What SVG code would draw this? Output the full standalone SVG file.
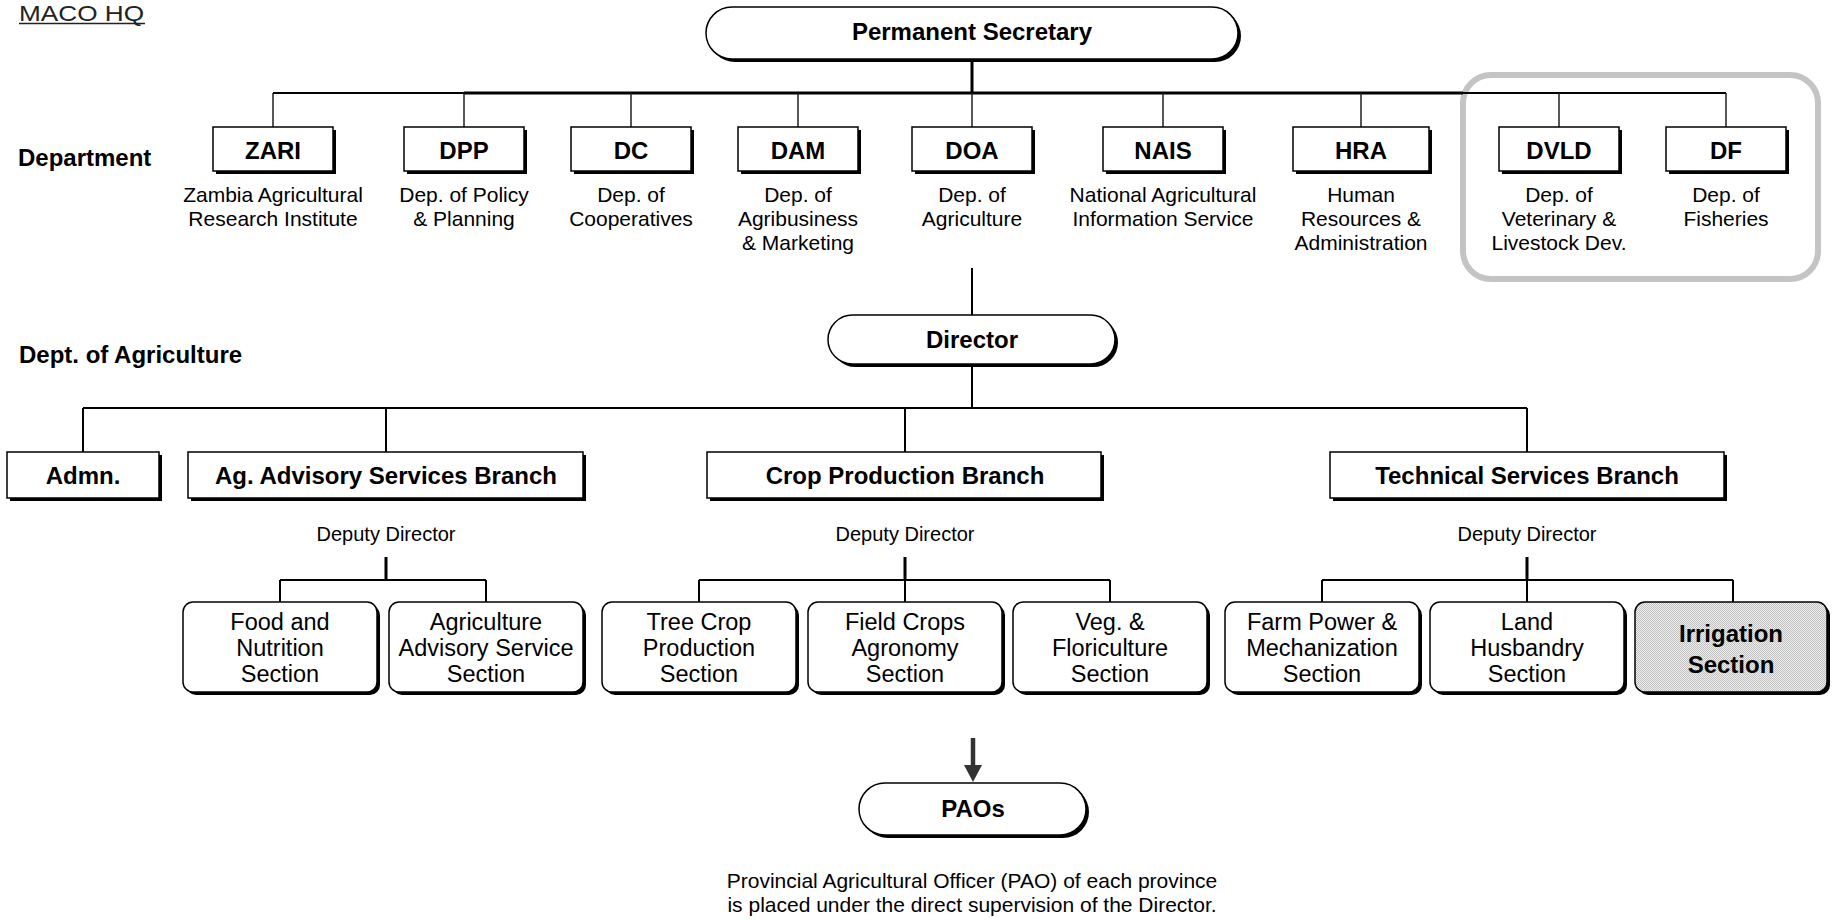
<svg xmlns="http://www.w3.org/2000/svg" width="1832" height="920" viewBox="0 0 1832 920">
<defs>
<style>
.bx{fill:#fff;stroke:#000;stroke-width:1.5}
.sh{fill:#000}
.irr{fill:url(#dots);stroke:#000;stroke-width:1.5}
.b{font-family:"Liberation Sans",Arial,sans-serif;font-weight:bold;font-size:24px;text-anchor:middle;fill:#000}
.bl{font-family:"Liberation Sans",Arial,sans-serif;font-weight:bold;font-size:24px;fill:#000}
.d{font-family:"Liberation Sans",Arial,sans-serif;font-size:21px;text-anchor:middle;fill:#000}
.s{font-family:"Liberation Sans",Arial,sans-serif;font-size:23.5px;text-anchor:middle;fill:#000}
.dd{font-family:"Liberation Sans",Arial,sans-serif;font-size:20px;text-anchor:middle;fill:#000}
.ln{stroke:#000;stroke-width:2;fill:none}
.lt{stroke:#000;stroke-width:3;fill:none}
.lf{stroke:#222;stroke-width:1.5;fill:none}
</style>
<pattern id="dots" width="2" height="2" patternUnits="userSpaceOnUse">
<rect width="2" height="2" fill="#efefef"/>
<rect width="1" height="1" fill="#c0c0c0"/>
<rect x="1" y="1" width="1" height="1" fill="#c0c0c0"/>
</pattern>
<marker id="ah" markerUnits="userSpaceOnUse" markerWidth="18" markerHeight="18" refX="0" refY="9" orient="auto">
<path d="M0,0 L17,9 L0,18 Z" fill="#333"/>
</marker>
</defs>

<g id="title">
<text x="19" y="21" font-family="Liberation Sans, Arial, sans-serif" font-size="22" fill="#222" textLength="125" lengthAdjust="spacingAndGlyphs">MACO HQ</text>
<line x1="19" y1="23.5" x2="145" y2="23.5" stroke="#222" stroke-width="1.6"/>
</g>
<g id="labels">
<text class="bl" x="18" y="166">Department</text>
<text class="bl" x="19" y="363">Dept. of Agriculture</text>
</g>

<g id="group-box">
<rect x="1463" y="75" width="355" height="204" rx="28" fill="none" stroke="#c4c4c4" stroke-width="6"/>
</g>

<g id="connectors">
<path class="lt" d="M972,59 V93"/>
<path class="ln" d="M273,93 H464"/>
<path class="lt" d="M464,93 H1463"/>
<path class="ln" d="M1463,93 H1726"/>
<path class="lf" d="M273,93 V127 M464,93 V127 M631,93 V127 M798,93 V127 M972,93 V127 M1163,93 V127 M1361,93 V127 M1559,93 V127 M1726,93 V127"/>
<path class="ln" d="M972,268 V315"/>
<path class="ln" d="M972,364 V408"/>
<path class="ln" d="M83,408 H1527"/>
<path class="ln" d="M83,408 V452 M386,408 V452 M905,408 V452 M1527,408 V452"/>
<path class="lt" d="M386,557 V580 M905,557 V580 M1527,557 V580"/>
<path class="ln" d="M280,580 H486 M280,580 V602 M486,580 V602"/>
<path class="ln" d="M699,580 H1110 M699,580 V602 M905,580 V602 M1110,580 V602"/>
<path class="ln" d="M1322,580 H1733 M1322,580 V602 M1527,580 V602 M1733,580 V602"/>
<line x1="973" y1="738" x2="973" y2="765" stroke="#333" stroke-width="4.5" marker-end="url(#ah)"/>
</g>

<g id="ps">
<rect class="sh" x="709" y="10" width="532" height="52" rx="26"/>
<rect class="bx" x="706" y="7" width="532" height="52" rx="26"/>
<text class="b" x="972" y="40">Permanent Secretary</text>
</g>

<g id="zari">
<rect class="sh" x="216" y="130" width="120" height="44"/>
<rect class="bx" x="213" y="127" width="120" height="44"/>
<text class="b" x="273" y="159">ZARI</text>
<text class="d" y="202"><tspan x="273">Zambia Agricultural</tspan><tspan x="273" dy="24">Research Institute</tspan></text>
</g>
<g id="dpp">
<rect class="sh" x="407" y="130" width="120" height="44"/>
<rect class="bx" x="404" y="127" width="120" height="44"/>
<text class="b" x="464" y="159">DPP</text>
<text class="d" y="202"><tspan x="464">Dep. of Policy</tspan><tspan x="464" dy="24">&amp; Planning</tspan></text>
</g>
<g id="dc">
<rect class="sh" x="574" y="130" width="120" height="44"/>
<rect class="bx" x="571" y="127" width="120" height="44"/>
<text class="b" x="631" y="159">DC</text>
<text class="d" y="202"><tspan x="631">Dep. of</tspan><tspan x="631" dy="24">Cooperatives</tspan></text>
</g>
<g id="dam">
<rect class="sh" x="741" y="130" width="120" height="44"/>
<rect class="bx" x="738" y="127" width="120" height="44"/>
<text class="b" x="798" y="159">DAM</text>
<text class="d" y="202"><tspan x="798">Dep. of</tspan><tspan x="798" dy="24">Agribusiness</tspan><tspan x="798" dy="24">&amp; Marketing</tspan></text>
</g>
<g id="doa">
<rect class="sh" x="915" y="130" width="120" height="44"/>
<rect class="bx" x="912" y="127" width="120" height="44"/>
<text class="b" x="972" y="159">DOA</text>
<text class="d" y="202"><tspan x="972">Dep. of</tspan><tspan x="972" dy="24">Agriculture</tspan></text>
</g>
<g id="nais">
<rect class="sh" x="1106" y="130" width="120" height="44"/>
<rect class="bx" x="1103" y="127" width="120" height="44"/>
<text class="b" x="1163" y="159">NAIS</text>
<text class="d" y="202"><tspan x="1163">National Agricultural</tspan><tspan x="1163" dy="24">Information Service</tspan></text>
</g>
<g id="hra">
<rect class="sh" x="1296" y="130" width="136" height="44"/>
<rect class="bx" x="1293" y="127" width="136" height="44"/>
<text class="b" x="1361" y="159">HRA</text>
<text class="d" y="202"><tspan x="1361">Human</tspan><tspan x="1361" dy="24">Resources &amp;</tspan><tspan x="1361" dy="24">Administration</tspan></text>
</g>
<g id="dvld">
<rect class="sh" x="1502" y="130" width="120" height="44"/>
<rect class="bx" x="1499" y="127" width="120" height="44"/>
<text class="b" x="1559" y="159">DVLD</text>
<text class="d" y="202"><tspan x="1559">Dep. of</tspan><tspan x="1559" dy="24">Veterinary &amp;</tspan><tspan x="1559" dy="24">Livestock Dev.</tspan></text>
</g>
<g id="df">
<rect class="sh" x="1669" y="130" width="120" height="44"/>
<rect class="bx" x="1666" y="127" width="120" height="44"/>
<text class="b" x="1726" y="159">DF</text>
<text class="d" y="202"><tspan x="1726">Dep. of</tspan><tspan x="1726" dy="24">Fisheries</tspan></text>
</g>

<g id="director">
<rect class="sh" x="831" y="318" width="287" height="49" rx="24.5"/>
<rect class="bx" x="828" y="315" width="287" height="49" rx="24.5"/>
<text class="b" x="972" y="348">Director</text>
</g>

<g id="admn">
<rect class="sh" x="10" y="455" width="152" height="46"/>
<rect class="bx" x="7" y="452" width="152" height="46"/>
<text class="b" x="83" y="484">Admn.</text>
</g>
<g id="agadv">
<rect class="sh" x="191" y="455" width="395" height="46"/>
<rect class="bx" x="188" y="452" width="395" height="46"/>
<text class="b" x="386" y="484">Ag. Advisory Services Branch</text>
<text class="dd" x="386" y="541">Deputy Director</text>
</g>
<g id="crop">
<rect class="sh" x="710" y="455" width="394" height="46"/>
<rect class="bx" x="707" y="452" width="394" height="46"/>
<text class="b" x="905" y="484">Crop Production Branch</text>
<text class="dd" x="905" y="541">Deputy Director</text>
</g>
<g id="tech">
<rect class="sh" x="1333" y="455" width="394" height="46"/>
<rect class="bx" x="1330" y="452" width="394" height="46"/>
<text class="b" x="1527" y="484">Technical Services Branch</text>
<text class="dd" x="1527" y="541">Deputy Director</text>
</g>

<g id="food">
<rect class="sh" x="186" y="605" width="194" height="90" rx="10"/>
<rect class="bx" x="183" y="602" width="194" height="90" rx="10"/>
<text class="s" y="630"><tspan x="280">Food and</tspan><tspan x="280" dy="26">Nutrition</tspan><tspan x="280" dy="26">Section</tspan></text>
</g>
<g id="aas">
<rect class="sh" x="392" y="605" width="194" height="90" rx="10"/>
<rect class="bx" x="389" y="602" width="194" height="90" rx="10"/>
<text class="s" y="630"><tspan x="486">Agriculture</tspan><tspan x="486" dy="26">Advisory Service</tspan><tspan x="486" dy="26">Section</tspan></text>
</g>
<g id="tree">
<rect class="sh" x="605" y="605" width="194" height="90" rx="10"/>
<rect class="bx" x="602" y="602" width="194" height="90" rx="10"/>
<text class="s" y="630"><tspan x="699">Tree Crop</tspan><tspan x="699" dy="26">Production</tspan><tspan x="699" dy="26">Section</tspan></text>
</g>
<g id="field">
<rect class="sh" x="811" y="605" width="194" height="90" rx="10"/>
<rect class="bx" x="808" y="602" width="194" height="90" rx="10"/>
<text class="s" y="630"><tspan x="905">Field Crops</tspan><tspan x="905" dy="26">Agronomy</tspan><tspan x="905" dy="26">Section</tspan></text>
</g>
<g id="veg">
<rect class="sh" x="1016" y="605" width="194" height="90" rx="10"/>
<rect class="bx" x="1013" y="602" width="194" height="90" rx="10"/>
<text class="s" y="630"><tspan x="1110">Veg. &amp;</tspan><tspan x="1110" dy="26">Floriculture</tspan><tspan x="1110" dy="26">Section</tspan></text>
</g>
<g id="farm">
<rect class="sh" x="1228" y="605" width="194" height="90" rx="10"/>
<rect class="bx" x="1225" y="602" width="194" height="90" rx="10"/>
<text class="s" y="630"><tspan x="1322">Farm Power &amp;</tspan><tspan x="1322" dy="26">Mechanization</tspan><tspan x="1322" dy="26">Section</tspan></text>
</g>
<g id="land">
<rect class="sh" x="1433" y="605" width="194" height="90" rx="10"/>
<rect class="bx" x="1430" y="602" width="194" height="90" rx="10"/>
<text class="s" y="630"><tspan x="1527">Land</tspan><tspan x="1527" dy="26">Husbandry</tspan><tspan x="1527" dy="26">Section</tspan></text>
</g>
<g id="irrigation">
<rect class="sh" x="1638" y="605" width="192" height="90" rx="10"/>
<rect class="irr" x="1635" y="602" width="192" height="90" rx="10"/>
<text class="b" y="642"><tspan x="1731">Irrigation</tspan><tspan x="1731" dy="31">Section</tspan></text>
</g>

<g id="paos">
<rect class="sh" x="862" y="786" width="227" height="52" rx="26"/>
<rect class="bx" x="859" y="783" width="227" height="52" rx="26"/>
<text class="b" x="973" y="817">PAOs</text>
</g>
<g id="caption">
<text class="d" y="888"><tspan x="972">Provincial Agricultural Officer (PAO) of each province</tspan><tspan x="972" dy="24">is placed under the direct supervision of the Director.</tspan></text>
</g>
</svg>
